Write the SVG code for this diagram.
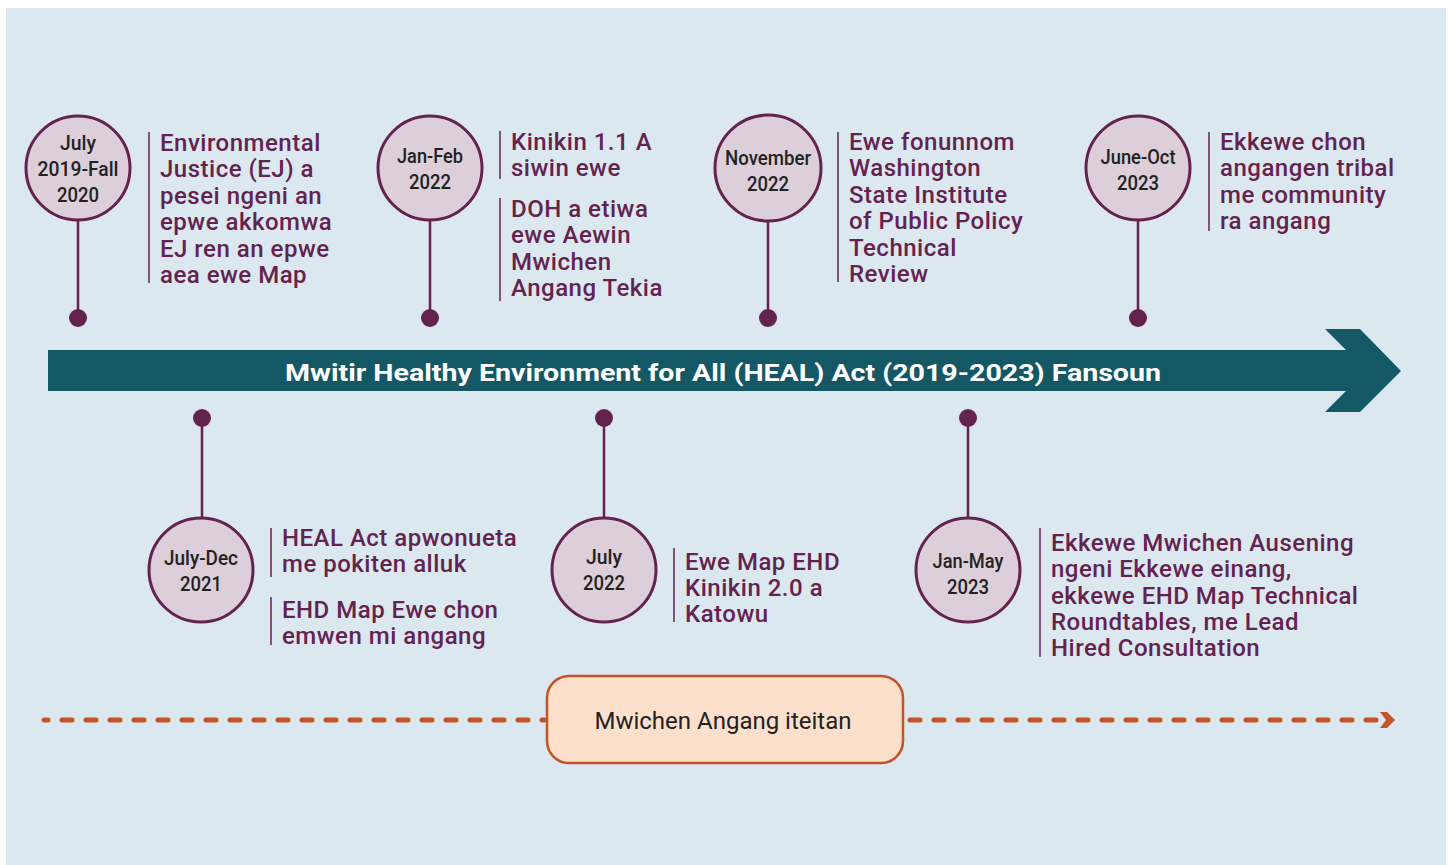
<svg xmlns="http://www.w3.org/2000/svg" width="1452" height="865" viewBox="0 0 1452 865">
<style>
.bg{fill:#dce8f0}
.circ{fill:#dccfd9;stroke:#64234f;stroke-width:3}
.date{font-family:Roboto,"Liberation Sans",sans-serif;font-weight:500;font-size:21px;fill:#222;text-anchor:middle}
.desc{font-family:Roboto,"Liberation Sans",sans-serif;font-weight:500;font-size:24px;letter-spacing:0.5px;fill:#64234f}
.sep{stroke:#64234f;stroke-width:1.5}
.stem{stroke:#64234f;stroke-width:2.5}
.dot{fill:#64234f}
.dash{fill:none;stroke:#c4522b;stroke-width:5;stroke-linecap:round;stroke-dasharray:10 14}
.title{font-family:Roboto,"Liberation Sans",sans-serif;font-weight:700;font-size:24px;fill:#fff;text-anchor:middle}
.box{fill:#fde0cc;stroke:#c4522b;stroke-width:2.5}
.boxtxt{font-family:Roboto,"Liberation Sans",sans-serif;font-size:24px;fill:#222;text-anchor:middle}
</style>
<defs>
<marker id="ah" markerUnits="userSpaceOnUse" markerWidth="16" markerHeight="18" refX="8" refY="9" orient="auto">
<polygon points="1,1 8,1 16,9 8,17 1,17 7,9" fill="#c4522b"/>
</marker>
</defs>
<rect class="bg" x="6" y="8" width="1440" height="857"/>

<g id="timeline-arrow">
<polygon points="48,350 1346,350 1325,329 1360,329 1401,371 1360,412 1325,412 1346,391 48,391" fill="#145866"/>
<text class="title" x="723" y="381" textLength="876" lengthAdjust="spacingAndGlyphs">Mwitir Healthy Environment for All (HEAL) Act (2019-2023) Fansoun</text>
</g>

<g id="connectors">
<line class="stem" x1="78" y1="221" x2="78" y2="318"/>
<line class="stem" x1="430" y1="221" x2="430" y2="318"/>
<line class="stem" x1="768" y1="221" x2="768" y2="318"/>
<line class="stem" x1="1138" y1="221" x2="1138" y2="318"/>
<line class="stem" x1="202" y1="418" x2="202" y2="517"/>
<line class="stem" x1="604" y1="418" x2="604" y2="517"/>
<line class="stem" x1="968" y1="418" x2="968" y2="517"/>
<circle class="dot" cx="78" cy="318" r="9"/>
<circle class="dot" cx="430" cy="318" r="9"/>
<circle class="dot" cx="768" cy="318" r="9"/>
<circle class="dot" cx="1138" cy="318" r="9"/>
<circle class="dot" cx="202" cy="418" r="9"/>
<circle class="dot" cx="604" cy="418" r="9"/>
<circle class="dot" cx="968" cy="418" r="9"/>
<path class="dash" d="M44,720 H545" stroke-dashoffset="6"/>
<path class="dash" d="M910,720 H1387" marker-end="url(#ah)"/>
</g>

<g id="n-2019">
<circle class="circ" cx="78" cy="168" r="52"/>
<text class="date" x="78" y="150" textLength="36" lengthAdjust="spacingAndGlyphs">July</text>
<text class="date" x="78" y="176" textLength="81" lengthAdjust="spacingAndGlyphs">2019-Fall</text>
<text class="date" x="78" y="202" textLength="42" lengthAdjust="spacingAndGlyphs">2020</text>
<line class="sep" x1="149" y1="132" x2="149" y2="283"/>
<text class="desc" x="160"><tspan x="160" y="151">Environmental</tspan><tspan x="160" y="177">Justice (EJ) a</tspan><tspan x="160" y="204">pesei ngeni an</tspan><tspan x="160" y="230">epwe akkomwa</tspan><tspan x="160" y="257">EJ ren an epwe</tspan><tspan x="160" y="283">aea ewe Map</tspan></text>
</g>

<g id="n-2022-janfeb">
<circle class="circ" cx="430" cy="168" r="52"/>
<text class="date" x="430" y="163" textLength="66" lengthAdjust="spacingAndGlyphs">Jan-Feb</text>
<text class="date" x="430" y="189" textLength="42" lengthAdjust="spacingAndGlyphs">2022</text>
<line class="sep" x1="500" y1="131" x2="500" y2="179"/>
<line class="sep" x1="500" y1="198" x2="500" y2="301"/>
<text class="desc"><tspan x="511" y="150">Kinikin 1.1 A</tspan><tspan x="511" y="176">siwin ewe</tspan><tspan x="511" y="217">DOH a etiwa</tspan><tspan x="511" y="243">ewe Aewin</tspan><tspan x="511" y="270">Mwichen</tspan><tspan x="511" y="296">Angang Tekia</tspan></text>
</g>

<g id="n-2022-nov">
<circle class="circ" cx="768" cy="168" r="53"/>
<text class="date" x="768" y="165" textLength="86" lengthAdjust="spacingAndGlyphs">November</text>
<text class="date" x="768" y="191" textLength="42" lengthAdjust="spacingAndGlyphs">2022</text>
<line class="sep" x1="838" y1="132" x2="838" y2="282"/>
<text class="desc"><tspan x="849" y="150">Ewe fonunnom</tspan><tspan x="849" y="176">Washington</tspan><tspan x="849" y="203">State Institute</tspan><tspan x="849" y="229">of Public Policy</tspan><tspan x="849" y="256">Technical</tspan><tspan x="849" y="282">Review</tspan></text>
</g>

<g id="n-2023-junoct">
<circle class="circ" cx="1138" cy="168" r="52"/>
<text class="date" x="1138" y="164" textLength="75" lengthAdjust="spacingAndGlyphs">June-Oct</text>
<text class="date" x="1138" y="190" textLength="42" lengthAdjust="spacingAndGlyphs">2023</text>
<line class="sep" x1="1209" y1="132" x2="1209" y2="231"/>
<text class="desc"><tspan x="1220" y="150">Ekkewe chon</tspan><tspan x="1220" y="176">angangen tribal</tspan><tspan x="1220" y="203">me community</tspan><tspan x="1220" y="229">ra angang</tspan></text>
</g>

<g id="n-2021">
<circle class="circ" cx="201" cy="570" r="52"/>
<text class="date" x="201" y="565" textLength="74" lengthAdjust="spacingAndGlyphs">July-Dec</text>
<text class="date" x="201" y="591" textLength="42" lengthAdjust="spacingAndGlyphs">2021</text>
<line class="sep" x1="271" y1="528" x2="271" y2="577"/>
<line class="sep" x1="271" y1="597" x2="271" y2="645"/>
<text class="desc"><tspan x="282" y="546">HEAL Act apwonueta</tspan><tspan x="282" y="572">me pokiten alluk</tspan><tspan x="282" y="618">EHD Map Ewe chon</tspan><tspan x="282" y="644">emwen mi angang</tspan></text>
</g>

<g id="n-2022-jul">
<circle class="circ" cx="604" cy="570" r="52"/>
<text class="date" x="604" y="564" textLength="36" lengthAdjust="spacingAndGlyphs">July</text>
<text class="date" x="604" y="590" textLength="42" lengthAdjust="spacingAndGlyphs">2022</text>
<line class="sep" x1="674" y1="548" x2="674" y2="622"/>
<text class="desc"><tspan x="685" y="570">Ewe Map EHD</tspan><tspan x="685" y="596">Kinikin 2.0 a</tspan><tspan x="685" y="622">Katowu</tspan></text>
</g>

<g id="n-2023-janmay">
<circle class="circ" cx="968" cy="570" r="52"/>
<text class="date" x="968" y="568" textLength="71" lengthAdjust="spacingAndGlyphs">Jan-May</text>
<text class="date" x="968" y="594" textLength="42" lengthAdjust="spacingAndGlyphs">2023</text>
<line class="sep" x1="1040" y1="528" x2="1040" y2="657"/>
<text class="desc"><tspan x="1051" y="551">Ekkewe Mwichen Ausening</tspan><tspan x="1051" y="577">ngeni Ekkewe einang,</tspan><tspan x="1051" y="604">ekkewe EHD Map Technical</tspan><tspan x="1051" y="630">Roundtables, me Lead</tspan><tspan x="1051" y="656">Hired Consultation</tspan></text>
</g>

<g id="n-ongoing">
<rect class="box" x="547" y="676" width="356" height="87" rx="22"/>
<text class="boxtxt" x="723" y="729">Mwichen Angang iteitan</text>
</g>
</svg>
